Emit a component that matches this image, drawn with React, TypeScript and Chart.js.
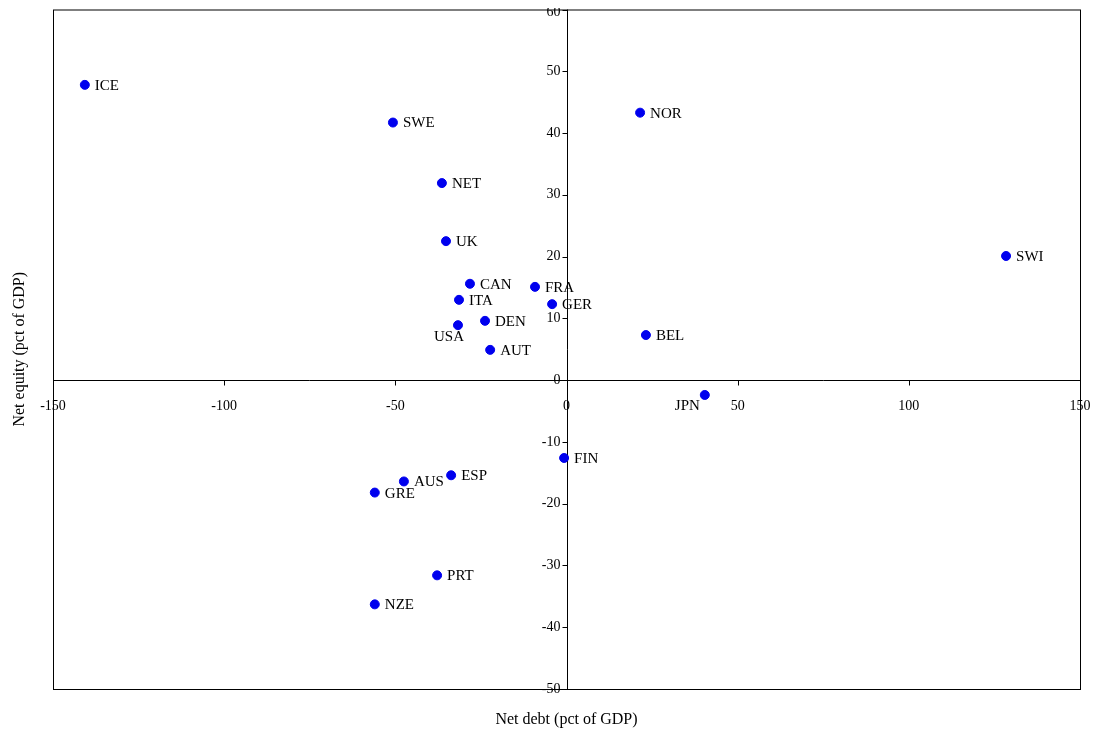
import React, { useEffect, useRef } from "react";
import Chart from "chart.js/auto";

const countries = ["ICE", "SWE", "NOR", "NET", "UK", "SWI", "CAN", "FRA", "ITA", "GER", "DEN", "USA", "BEL", "AUT", "JPN", "FIN", "ESP", "AUS", "GRE", "PRT", "NZE"];
const netDebt = [-140.7, -50.7, 21.5, -36.4, -35.2, 128.4, -28.2, -9.2, -31.4, -4.2, -23.8, -31.7, 23.2, -22.3, 40.4, -0.7, -33.7, -47.5, -56, -37.8, -56];
const netEquity = [47.8, 41.7, 43.3, 31.9, 22.5, 20.1, 15.6, 15.1, 13.0, 12.3, 9.6, 8.9, 7.3, 4.9, -2.4, -12.6, -15.4, -16.4, -18.2, -31.6, -36.3];
const xTicks = [-150, -100, -50, 0, 50, 100, 150];
const yTicks = [60, 50, 40, 30, 20, 10, 0, -10, -20, -30, -40, -50];
const leftLabels = ["JPN"];
const belowLeftLabels = ["USA"];

const FONT = "'Liberation Serif', 'Times New Roman', serif";

const App = () => {
	const chartRef = useRef<HTMLCanvasElement>(null);
	const chartInstance = useRef<Chart | null>(null);

	useEffect(() => {
		if (!chartRef.current) return;
		const ctx = chartRef.current.getContext("2d");
		if (!ctx) return;

		// frame, cross axes through zero, tick labels, point labels and titles
		const decorations = {
			id: "decorations",
			beforeDatasetsDraw(chart: any) {
				const c = chart.ctx;
				const a = chart.chartArea;
				const xs = chart.scales.x;
				const ys = chart.scales.y;
				const x0 = Math.round(xs.getPixelForValue(0)) + 0.5;
				const y0 = Math.round(ys.getPixelForValue(0)) + 0.5;
				c.save();
				c.strokeStyle = "#000";
				c.lineWidth = 1;
				c.strokeRect(a.left + 0.5, a.top + 0.5, a.right - a.left, a.bottom - a.top);
				c.beginPath();
				c.moveTo(a.left, y0);
				c.lineTo(a.right, y0);
				c.moveTo(x0, a.top);
				c.lineTo(x0, a.bottom);
				xTicks.forEach((v) => {
					const px = Math.round(xs.getPixelForValue(v)) + 0.5;
					c.moveTo(px, y0);
					c.lineTo(px, y0 + 5);
				});
				yTicks.forEach((v) => {
					const py = Math.round(ys.getPixelForValue(v)) + 0.5;
					c.moveTo(x0 - 5, py);
					c.lineTo(x0, py);
				});
				c.stroke();
				c.fillStyle = "#000";
				c.font = `14px ${FONT}`;
				c.textAlign = "center";
				c.textBaseline = "middle";
				xTicks.forEach((v) => c.fillText(String(v), xs.getPixelForValue(v), y0 + 26));
				c.textAlign = "right";
				yTicks.forEach((v) => c.fillText(String(v), x0 - 7, Math.max(ys.getPixelForValue(v), 8)));
				c.restore();
			},
			afterDatasetsDraw(chart: any) {
				const c = chart.ctx;
				const a = chart.chartArea;
				c.save();
				c.fillStyle = "#000";
				c.font = `15px ${FONT}`;
				c.textBaseline = "middle";
				const meta = chart.getDatasetMeta(0);
				meta.data.forEach((pt: any, i: number) => {
					const name = countries[i];
					if (leftLabels.includes(name)) {
						c.textAlign = "right";
						c.fillText(name, pt.x - 5, pt.y + 11);
					} else if (belowLeftLabels.includes(name)) {
						c.textAlign = "right";
						c.fillText(name, pt.x + 6, pt.y + 12);
					} else {
						c.textAlign = "left";
						c.fillText(name, pt.x + 10, pt.y + 1);
					}
				});
				c.font = `16px ${FONT}`;
				c.textAlign = "center";
				c.fillText("Net debt (pct of GDP)", (a.left + a.right) / 2, a.bottom + 31);
				c.translate(12, (a.top + a.bottom) / 2);
				c.rotate(-Math.PI / 2);
				c.fillText("Net equity (pct of GDP)", 0, 0);
				c.restore();
			},
		};

		chartInstance.current = new Chart(ctx, {
			type: "scatter",
			data: {
				datasets: [
					{
						data: netDebt.map((x, i) => ({ x, y: netEquity[i] })),
						backgroundColor: "#0000ee",
						borderColor: "#0000ee",
						pointRadius: 4.5,
					},
				],
			},
			options: {
				animation: false,
				responsive: true,
				maintainAspectRatio: false,
				layout: { padding: { left: 45, top: 0, right: 11, bottom: 39 } },
				plugins: { legend: { display: false }, tooltip: { enabled: false } },
				scales: {
					x: { type: "linear", min: -150, max: 150, display: false },
					y: { type: "linear", min: -50, max: 60, display: false },
				},
			},
			plugins: [decorations],
		});

		return () => {
			if (chartInstance.current) chartInstance.current.destroy();
		};
	}, []);

	return (
		<div style={{ width: 1083, height: 724, marginTop: -4 }}>
			<canvas ref={chartRef} />
		</div>
	);
};

export default App;
